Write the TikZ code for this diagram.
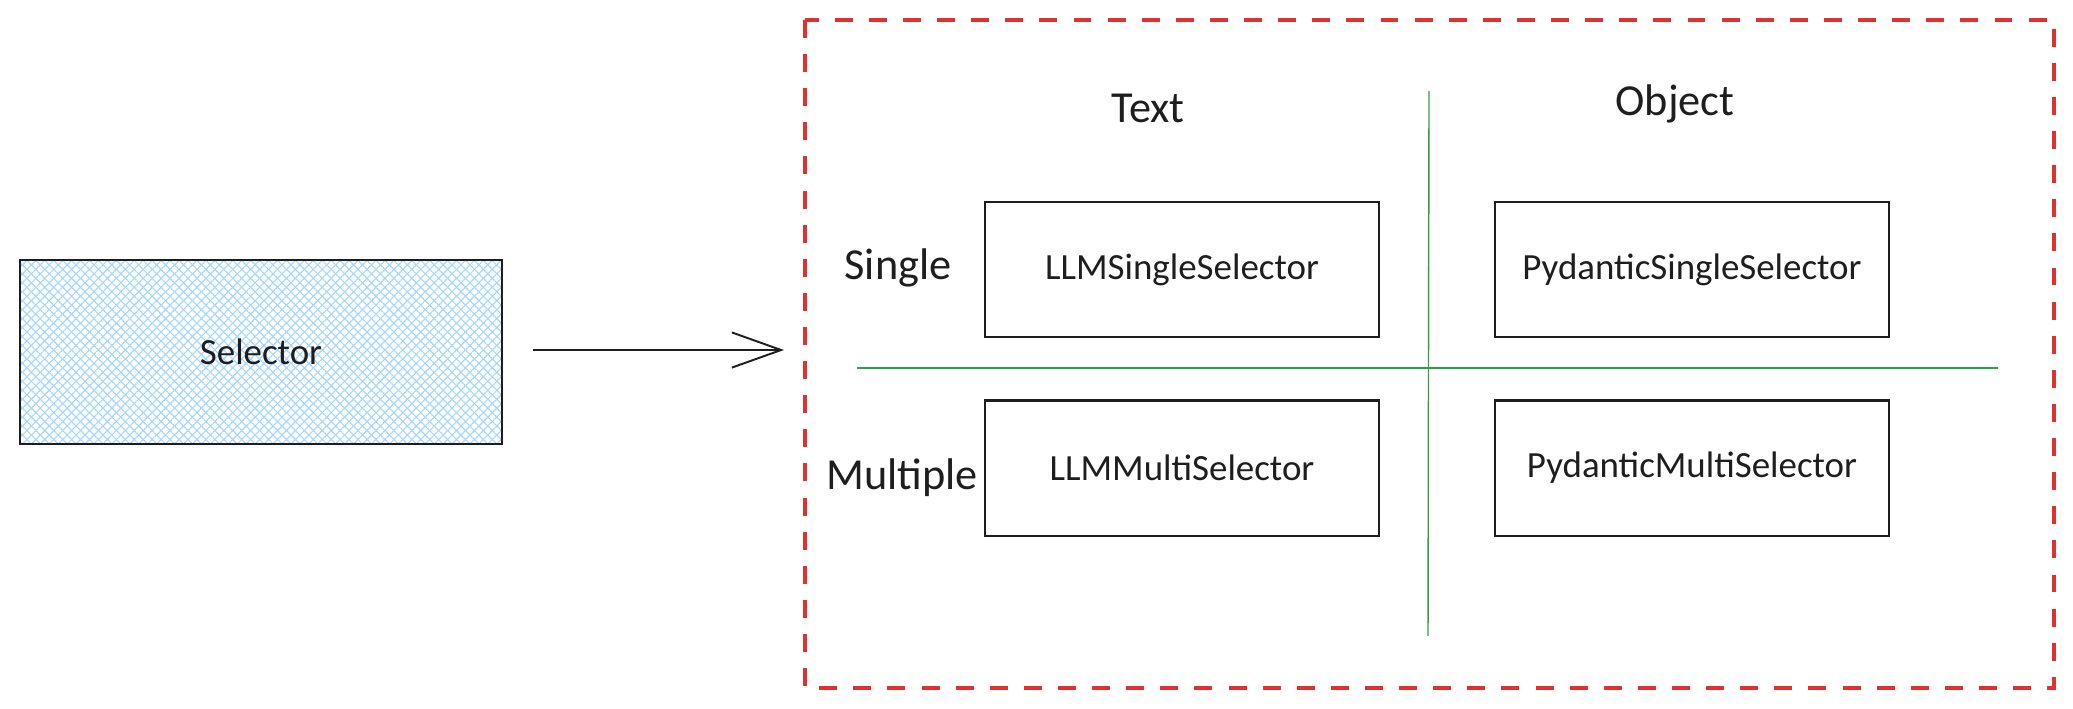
\documentclass[tikz,border=0pt]{standalone}
\usepackage{fontspec}
\setmainfont{Carlito}
\usetikzlibrary{arrows.meta,patterns.meta}
\definecolor{ink}{HTML}{1E1E1E}
\definecolor{hatchblue}{HTML}{A5D8FF}
\definecolor{framered}{HTML}{E03131}
\definecolor{gridgreen}{HTML}{2F9E44}
\tikzset{
  classbox/.style={draw=ink, line width=0.6pt, minimum width=3.94cm, minimum height=1.35cm,
    inner sep=0pt, text=ink, font=\fontsize{10.5}{12}\selectfont},
  header/.style={text=ink, inner sep=0pt, font=\fontsize{12.6}{15}\selectfont},
  selbox/.style={draw=ink, line width=0.6pt, minimum width=4.82cm, minimum height=1.84cm,
    inner sep=0pt, text=ink, font=\fontsize{10.5}{12}\selectfont,
    preaction={pattern={Lines[angle=45,distance=1.8pt,line width=0.32pt]}, pattern color=hatchblue},
    pattern={Lines[angle=-45,distance=1.8pt,line width=0.32pt]}, pattern color=hatchblue},
  frame/.style={draw=framered, line width=0.9pt, dash pattern=on 5.1pt off 4.6pt},
  divider/.style={draw=gridgreen, line width=0.4pt},
  flow/.style={draw=ink, line width=0.55pt, -{Straight Barb[length=14pt,width=10pt,line width=0.55pt]}}
}
\begin{document}
\begin{tikzpicture}[x=0.01cm,y=-0.01cm]
\useasboundingbox (0,0) rectangle (2073,708);
% left component
\node[selbox] (sel) at (261,352) {Selector};
% arrow
\coordinate (arrS) at (533,350);
\coordinate (arrE) at (784,350);
\draw[flow] (arrS) -- (arrE);
% dashed frame
\coordinate (frTL) at (805,20);
\coordinate (frBR) at (2054,688);
\draw[frame] (frTL) rectangle (frBR);
% dividers
\coordinate (vTop) at (1429,91);
\coordinate (vBot) at (1428,636);
\coordinate (hL) at (857,368);
\coordinate (hR) at (1998,368);
\draw[divider] (vTop) -- (vBot);
\draw[divider] (hL) -- (hR);
% headers
\node[header] (hText) at (1148,108) {Text};
\node[header] (hObj) at (1675,104) {Object};
\node[header] (hSingle) at (898,268) {Single};
\node[header] (hMulti) at (902,478) {Multiple};
% boxes
\node[classbox] (llmS) at (1182,269.5) {LLMSingleSelector};
\node[classbox] (pydS) at (1692,269.5) {PydanticSingleSelector};
\node[classbox] (llmM) at (1182,468) {LLMMultiSelector};
\node[classbox] (pydM) at (1692,468) {PydanticMultiSelector};
\end{tikzpicture}
\end{document}
